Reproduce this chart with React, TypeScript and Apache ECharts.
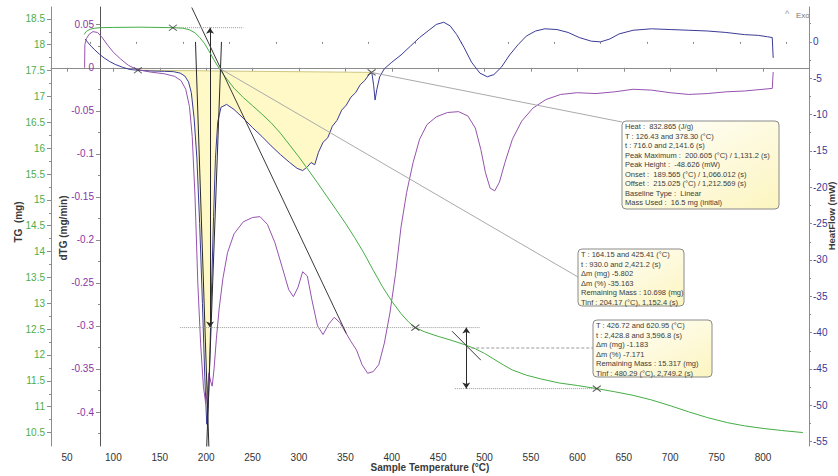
import React, { useEffect, useRef } from "react";
import * as echarts from "echarts";

const FONT = '"Liberation Sans", Arial, sans-serif';

// ---- axis ranges / ticks ----
const xRange = [32.8, 849.6];
const xTicks = [50, 100, 150, 200, 250, 300, 350, 400, 450, 500, 550, 600, 650, 700, 750, 800];
const xMinor = [75, 125, 175, 225, 275, 325, 375, 425, 475, 525, 575, 625, 675, 725, 775, 825];
const tgRange = [10.24, 18.73];
const tgTicks = [10.5, 11, 11.5, 12, 12.5, 13, 13.5, 14, 14.5, 15, 15.5, 16, 16.5, 17, 17.5, 18, 18.5];
const tgMinor = [10.75, 11.25, 11.75, 12.25, 12.75, 13.25, 13.75, 14.25, 14.75, 15.25, 15.75, 16.25, 16.75, 17.25, 17.75, 18.25];
const dtgRange = [-0.4395, 0.0706];
const dtgTicks = [-0.4, -0.35, -0.3, -0.25, -0.2, -0.15, -0.1, -0.05, 0, 0.05];
const dtgMinor = [-0.425, -0.375, -0.325, -0.275, -0.225, -0.175, -0.125, -0.075, -0.025, 0.025];
const hfRange = [-55.6, 4.8];
const hfTicks = [-55, -50, -45, -40, -35, -30, -25, -20, -15, -10, -5, 0];
const hfMinor = [-52.5, -47.5, -42.5, -37.5, -32.5, -27.5, -22.5, -17.5, -12.5, -7.5, -2.5, 2.5];

// ---- TG (mg) vs sample temperature ----
const tgData: [number, number][] = [
  [68.5, 18.2], [71, 18.26], [75, 18.3], [80, 18.32], [86, 18.33], [100, 18.335], [130, 18.34],
  [164, 18.33], [175, 18.32], [182, 18.29], [188, 18.23], [193, 18.14], [198, 18.03], [203, 17.88],
  [208, 17.72], [213, 17.57], [220, 17.39], [230, 17.16], [240, 16.98], [250, 16.82], [260, 16.66],
  [270, 16.49], [280, 16.29], [290, 16.06], [300, 15.83], [310, 15.58], [320, 15.33], [330, 15.07],
  [340, 14.81], [350, 14.55], [360, 14.27], [370, 13.97], [380, 13.64], [390, 13.32], [400, 13.04],
  [410, 12.8], [418, 12.64], [425.4, 12.53], [435, 12.45], [450, 12.36], [465, 12.28], [480, 12.19],
  [490, 12.12], [500, 12.03], [510, 11.92], [520, 11.81], [530, 11.71], [545, 11.61], [560, 11.54],
  [580, 11.46], [600, 11.41], [621, 11.35], [640, 11.29], [660, 11.22], [680, 11.13], [700, 11.02],
  [720, 10.9], [740, 10.79], [762, 10.69], [780, 10.63], [800, 10.58], [820, 10.54], [843, 10.5],
];

// ---- dTG (mg/min) ----
const dtgData: [number, number][] = [
  [69.0, 0.0], [69.3, 0.027], [71, 0.034], [74, 0.039], [78, 0.042], [83, 0.041], [88, 0.035],
  [94, 0.026], [100, 0.018], [108, 0.01], [116, 0.003], [125, -0.002], [140, -0.005], [155, -0.007],
  [166, -0.01], [173, -0.015], [178, -0.025], [182, -0.045], [185, -0.08], [188, -0.15], [191, -0.25],
  [194, -0.32], [197, -0.37], [199.5, -0.39], [201.5, -0.375], [203, -0.355], [205, -0.365],
  [206.5, -0.37], [208.5, -0.35], [211, -0.315], [214, -0.28], [218, -0.245], [223, -0.215],
  [230, -0.193], [240, -0.179], [250, -0.174], [258, -0.173], [266, -0.182], [274, -0.203],
  [282, -0.232], [289, -0.258], [294, -0.266], [299, -0.255], [304, -0.237], [309, -0.242],
  [314, -0.27], [320, -0.3], [326, -0.31], [332, -0.298], [338, -0.29], [344, -0.296], [350, -0.307],
  [356, -0.318], [362, -0.328], [368, -0.345], [374, -0.355], [380, -0.353], [386, -0.345],
  [392, -0.32], [398, -0.285], [404, -0.24], [410, -0.185], [416, -0.145], [423, -0.11], [430, -0.083],
  [438, -0.066], [448, -0.057], [460, -0.052], [472, -0.051], [482, -0.056], [490, -0.07], [496, -0.095],
  [501, -0.122], [506, -0.14], [511, -0.143], [516, -0.133], [522, -0.11], [530, -0.083], [540, -0.062],
  [552, -0.047], [566, -0.037], [582, -0.031], [600, -0.029], [620, -0.03], [640, -0.028], [660, -0.025],
  [680, -0.026], [700, -0.029], [720, -0.031], [740, -0.03], [760, -0.028], [780, -0.027], [800, -0.025],
  [810, -0.024], [811, -0.005],
];

// ---- Heat flow (mW) ----
const hfData: [number, number][] = [
  [69.5, 0.4], [72, 0.0], [76, -0.6], [80, -1.1], [85, -1.7], [90, -2.2], [96, -2.7], [102, -3.1],
  [110, -3.5], [118, -3.8], [126.4, -3.9], [140, -4.0], [155, -4.05], [165, -4.1], [172, -4.3],
  [177, -4.7], [181, -5.5], [184, -7], [187, -10.5], [190, -16], [193, -25], [196, -36], [198.5, -46],
  [200.6, -52.6], [202.3, -50], [204, -43], [206, -33], [208, -24], [210, -16], [212.5, -11], [216, -9],
  [222, -8.6], [230, -9.3], [240, -10.5], [250, -11.8], [260, -13], [270, -14.3], [280, -15.5],
  [290, -16.6], [298, -17.4], [304, -17.7], [309, -17.2], [313, -16.6], [317, -16.9], [321, -15.2],
  [326, -13.8], [331, -13.2], [336, -11.6], [341, -10.8], [346, -9.4], [351, -8.7], [356, -7.6],
  [361, -7], [366, -5.9], [371, -5.3], [376, -4.4], [378.5, -4.2], [380.5, -6], [382, -8], [384, -6.5],
  [387, -4.8], [392, -3.7], [400, -2.8], [410, -1.8], [420, -0.6], [430, 0.6], [440, 1.6], [448, 2.4],
  [456, 2.7], [463, 2.2], [470, 1], [478, -0.8], [486, -2.8], [495, -4.3], [503, -4.8], [510, -4.5],
  [518, -3.5], [527, -1.8], [536, -0.4], [545, 0.8], [555, 1.5], [565, 1.8], [578, 1.7], [590, 1.3],
  [602, 0.6], [615, 0.1], [625, 0.0], [635, 0.4], [645, 1.1], [660, 1.6], [680, 1.8], [700, 1.7],
  [720, 1.6], [740, 1.5], [760, 1.3], [780, 1.0], [795, 0.9], [805, 0.7], [810, 0.6], [811, -2.2],
];

// ---- analysis annotations ----
const peakStart = 126.43;
const peakEnd = 378.3;
const peakBase: [number, number][] = [[126.43, -3.9], [378.3, -4.2]];
const hfMarkers: [number, number][] = [[126.43, -3.9], [378.3, -4.2]];
const tgMarkers: [number, number][] = [[164.15, 18.33], [425.41, 12.53], [620.95, 11.35]];
const tgTangentA: [number, number][] = [[184.5, 18.72], [351, 12.42]];
const tgTangentB: [number, number][] = [[465, 12.46], [496, 11.9]];
const hfOnsetTangent: [number, number][] = [[188.5, 0], [203, -56]];
const hfOffsetTangent: [number, number][] = [[216.5, 0], [200.5, -56]];
const step1Top: [number, number][] = [[164.15, 18.33], [240, 18.33]];
const step1Bottom: [number, number][] = [[172, 12.53], [425.41, 12.53]];
const step2Top: [number, number][] = [[425.41, 12.53], [495, 12.53]];
const step2Bottom: [number, number][] = [[468, 11.35], [620.95, 11.35]];
const step1Arrow: [number, number][] = [[204.17, 18.33], [204.17, 12.53]];
const step2Arrow: [number, number][] = [[480.29, 12.53], [480.29, 11.35]];

const box1Lines = [
  "Heat :  832.865 (J/g)",
  "T : 126.43 and 378.30 (°C)",
  "t : 716.0 and 2,141.6 (s)",
  "Peak Maximum :  200.605 (°C) / 1,131.2 (s)",
  "Peak Height :  -48.626 (mW)",
  "Onset :  189.565 (°C) / 1,066.012 (s)",
  "Offset :  215.025 (°C) / 1,212.569 (s)",
  "Baseline Type :  Linear",
  "Mass Used :  16.5 mg (initial)",
];
const box2Lines = [
  "T : 164.15 and 425.41 (°C)",
  "t : 930.0 and 2,421.2 (s)",
  "Δm (mg) -5.802",
  "Δm (%) -35.163",
  "Remaining Mass : 10.698 (mg)",
  "Tinf : 204.17 (°C), 1,152.4 (s)",
];
const box3Lines = [
  "T : 426.72 and 620.95 (°C)",
  "t : 2,428.8 and 3,596.8 (s)",
  "Δm (mg) -1.183",
  "Δm (%) -7.171",
  "Remaining Mass : 15.317 (mg)",
  "Tinf : 480.29 (°C), 2,749.2 (s)",
];

const GREEN = "#45ad45";
const GREEN_LBL = "#4cae4c";
const PURPLE = "#9553ad";
const PURPLE_LBL = "#8a35a6";
const NAVY = "#3b3b96";
const NAVY_LBL = "#38389a";
const AXIS = "#8c8c8c";

const xMark = "path://M0,0L8,6M0,6L8,0";

function simpleLine(data: [number, number][], yAxisIndex: number, color: string, type: string = "solid", width = 1, z = 3) {
  return {
    type: "line",
    xAxisIndex: 0,
    yAxisIndex,
    data,
    showSymbol: false,
    symbol: "none",
    silent: true,
    z,
    lineStyle: { color, width, type },
  };
}

function minorYAxis(range: number[], values: number[], position: string, offset: number, color: string) {
  return {
    type: "value",
    min: range[0],
    max: range[1],
    position,
    offset,
    axisLine: { show: false },
    axisTick: { show: true, customValues: values, length: 2, lineStyle: { color } },
    axisLabel: { show: false },
    splitLine: { show: false },
  };
}

export default function App() {
  const ref = useRef<HTMLDivElement>(null);
  useEffect(() => {
    if (!ref.current) return;
    const chart = echarts.init(ref.current, null, { renderer: "svg" });
    const option: any = {
      animation: false,
      backgroundColor: "#ffffff",
      grid: { left: 51, right: 29, top: 7, bottom: 30, containLabel: false },
      xAxis: [
        {
          type: "value",
          min: xRange[0],
          max: xRange[1],
          position: "bottom",
          axisLine: { lineStyle: { color: AXIS } },
          axisTick: { customValues: xTicks, length: 4, lineStyle: { color: AXIS } },
          axisLabel: { customValues: xTicks, color: "#333", fontSize: 10, margin: 6, fontFamily: FONT },
          splitLine: { show: false },
        },
        {
          type: "value",
          min: xRange[0],
          max: xRange[1],
          position: "bottom",
          axisLine: { show: false },
          axisTick: { customValues: xMinor, length: 2, lineStyle: { color: AXIS } },
          axisLabel: { show: false },
          splitLine: { show: false },
        },
      ],
      yAxis: [
        {
          type: "value",
          min: tgRange[0],
          max: tgRange[1],
          position: "left",
          offset: 0,
          axisLine: { show: true, lineStyle: { color: AXIS } },
          axisTick: { show: true, customValues: tgTicks, length: 4, lineStyle: { color: AXIS } },
          axisLabel: { customValues: tgTicks, color: GREEN_LBL, fontSize: 10, margin: 6, fontFamily: FONT },
          splitLine: { show: false },
        },
        {
          type: "value",
          min: dtgRange[0],
          max: dtgRange[1],
          position: "left",
          offset: -49,
          axisLine: { show: true, lineStyle: { color: "#555" } },
          axisTick: { show: true, customValues: dtgTicks, length: 4, lineStyle: { color: AXIS } },
          axisLabel: { customValues: dtgTicks, color: PURPLE_LBL, fontSize: 10, margin: 6, fontFamily: FONT },
          splitLine: { show: false },
        },
        {
          type: "value",
          min: hfRange[0],
          max: hfRange[1],
          position: "right",
          offset: 0,
          axisLine: { show: true, lineStyle: { color: AXIS } },
          axisTick: { show: true, customValues: hfTicks, length: 3, lineStyle: { color: AXIS } },
          axisLabel: { customValues: hfTicks, color: NAVY_LBL, fontSize: 10, margin: 4, fontFamily: FONT },
          splitLine: { show: false },
        },
        minorYAxis(tgRange, tgMinor, "left", 0, AXIS),
        minorYAxis(dtgRange, dtgMinor, "left", -49, AXIS),
        minorYAxis(hfRange, hfMinor, "right", 0, AXIS),
      ],
      series: [
        {
          type: "custom",
          xAxisIndex: 0,
          yAxisIndex: 2,
          silent: true,
          z: 1,
          data: [peakBase[0]],
          renderItem: (_params: any, api: any) => {
            const pts: number[][] = [api.coord(peakBase[0])];
            hfData
              .filter((d) => d[0] > peakStart && d[0] < peakEnd)
              .forEach((d) => pts.push(api.coord(d)));
            pts.push(api.coord(peakBase[1]));
            return {
              type: "polygon",
              shape: { points: pts },
              style: { fill: "rgba(255,249,196,0.95)", stroke: "none" },
            };
          },
        },
        simpleLine(peakBase, 2, "#cfc680", "solid", 1, 2),
        simpleLine(hfData, 2, NAVY, "solid", 1, 4),
        simpleLine(dtgData, 1, PURPLE, "solid", 1, 4),
        simpleLine(tgData, 0, GREEN, "solid", 1, 5),
        simpleLine(tgTangentA, 0, "#3a3a3a", "solid", 1, 6),
        simpleLine(tgTangentB, 0, "#3a3a3a", "solid", 1, 6),
        simpleLine(hfOnsetTangent, 2, "#2a2a2a", "solid", 1, 6),
        simpleLine(hfOffsetTangent, 2, "#2a2a2a", "solid", 1, 6),
        simpleLine(step1Top, 0, "#9a9a9a", "dotted", 1, 6),
        simpleLine(step1Bottom, 0, "#9a9a9a", "dotted", 1, 6),
        simpleLine(step2Top, 0, "#9a9a9a", "dotted", 1, 6),
        simpleLine(step2Bottom, 0, "#9a9a9a", "dotted", 1, 6),
        {
          type: "line",
          xAxisIndex: 0,
          yAxisIndex: 0,
          data: [],
          silent: true,
          z: 7,
          markLine: {
            silent: true,
            symbol: ["arrow", "arrow"],
            symbolSize: 6,
            label: { show: false },
            lineStyle: { color: "#2a2a2a", width: 1, type: "solid" },
            data: [
              [{ coord: step1Arrow[0] }, { coord: step1Arrow[1] }],
              [{ coord: step2Arrow[0] }, { coord: step2Arrow[1] }],
            ],
          },
        },
        {
          type: "scatter",
          xAxisIndex: 0,
          yAxisIndex: 0,
          data: tgMarkers,
          symbol: xMark,
          symbolSize: [8, 6],
          silent: true,
          z: 8,
          itemStyle: { color: "rgba(0,0,0,0)", borderColor: "#333", borderWidth: 1 },
        },
        {
          type: "scatter",
          xAxisIndex: 0,
          yAxisIndex: 2,
          data: hfMarkers,
          symbol: xMark,
          symbolSize: [8, 6],
          silent: true,
          z: 8,
          itemStyle: { color: "rgba(0,0,0,0)", borderColor: "#333", borderWidth: 1 },
        },
      ],
    };
    chart.setOption(option);

    const px = (yi: number, p: [number, number]) =>
      chart.convertToPixel({ xAxisIndex: 0, yAxisIndex: yi }, p) as number[];

    const b1 = { x: 622, y: 121, w: 157, h: 88 };
    const b2 = { x: 578, y: 249, w: 106, h: 57 };
    const b3 = { x: 593, y: 320, w: 119, h: 57 };
    const grad = () =>
      new echarts.graphic.LinearGradient(0, 0, 1, 1, [
        { offset: 0, color: "#ffffff" },
        { offset: 1, color: "#fcf5c0" },
      ]);
    const box = (b: any, lines: string[]) => [
      {
        type: "rect",
        z: 100,
        shape: { x: b.x, y: b.y, width: b.w, height: b.h, r: 4 },
        style: { fill: grad(), stroke: "#8a8a8a", lineWidth: 1 },
      },
      {
        type: "text",
        z: 101,
        x: b.x + 3,
        y: b.y + 1,
        style: {
          text: lines.join("\n"),
          fontSize: 7.5,
          lineHeight: 9.5,
          fontFamily: FONT,
          fill: "#3c3c3c",
          align: "left",
          verticalAlign: "top",
        },
      },
    ];
    const l1s = px(2, peakBase[1]);
    const l2s = px(0, [214, 17.55]);
    const l3s = px(0, [480.29, 12.0]);

    chart.setOption({
      graphic: [
        { type: "line", z: 90, shape: { x1: l1s[0], y1: l1s[1], x2: b1.x, y2: b1.y + 1 }, style: { stroke: "#aaaaaa", lineWidth: 1 } },
        { type: "line", z: 90, shape: { x1: l2s[0], y1: l2s[1], x2: b2.x, y2: b2.y + 28 }, style: { stroke: "#aaaaaa", lineWidth: 1 } },
        { type: "line", z: 90, shape: { x1: l3s[0], y1: 348, x2: b3.x, y2: 348 }, style: { stroke: "#999999", lineWidth: 1, lineDash: [3, 2] } },
        ...box(b1, box1Lines),
        ...box(b2, box2Lines),
        ...box(b3, box3Lines),
        {
          type: "text",
          x: 18,
          y: 222,
          rotation: Math.PI / 2,
          style: { text: "TG  (mg)", fontSize: 10, fontWeight: "bold", fontFamily: FONT, fill: "#3a3a3a", align: "center", verticalAlign: "middle" },
        },
        {
          type: "text",
          x: 63,
          y: 228,
          rotation: Math.PI / 2,
          style: { text: "dTG (mg/min)", fontSize: 10, fontWeight: "bold", fontFamily: FONT, fill: "#3a3a3a", align: "center", verticalAlign: "middle" },
        },
        {
          type: "text",
          x: 831,
          y: 216,
          rotation: Math.PI / 2,
          style: { text: "HeatFlow (mW)", fontSize: 9.5, fontWeight: "bold", fontFamily: FONT, fill: "#3a3a3a", align: "center", verticalAlign: "middle" },
        },
        {
          type: "text",
          x: 430,
          y: 467,
          style: { text: "Sample Temperature (°C)", fontSize: 10, fontWeight: "bold", fontFamily: FONT, fill: "#3a3a3a", align: "center", verticalAlign: "middle" },
        },
        {
          type: "text",
          x: 787,
          y: 14,
          style: { text: "^", fontSize: 9, fontFamily: FONT, fill: "#999999", align: "center", verticalAlign: "middle" },
        },
        {
          type: "text",
          x: 796,
          y: 15,
          style: { text: "Exo", fontSize: 8, fontFamily: FONT, fill: "#777777", align: "left", verticalAlign: "middle" },
        },
      ],
    });
    return () => chart.dispose();
  }, []);

  return (
    <div
      ref={ref}
      style={{ position: "fixed", left: 0, top: 0, width: 838, height: 476, background: "#fff" }}
    />
  );
}
